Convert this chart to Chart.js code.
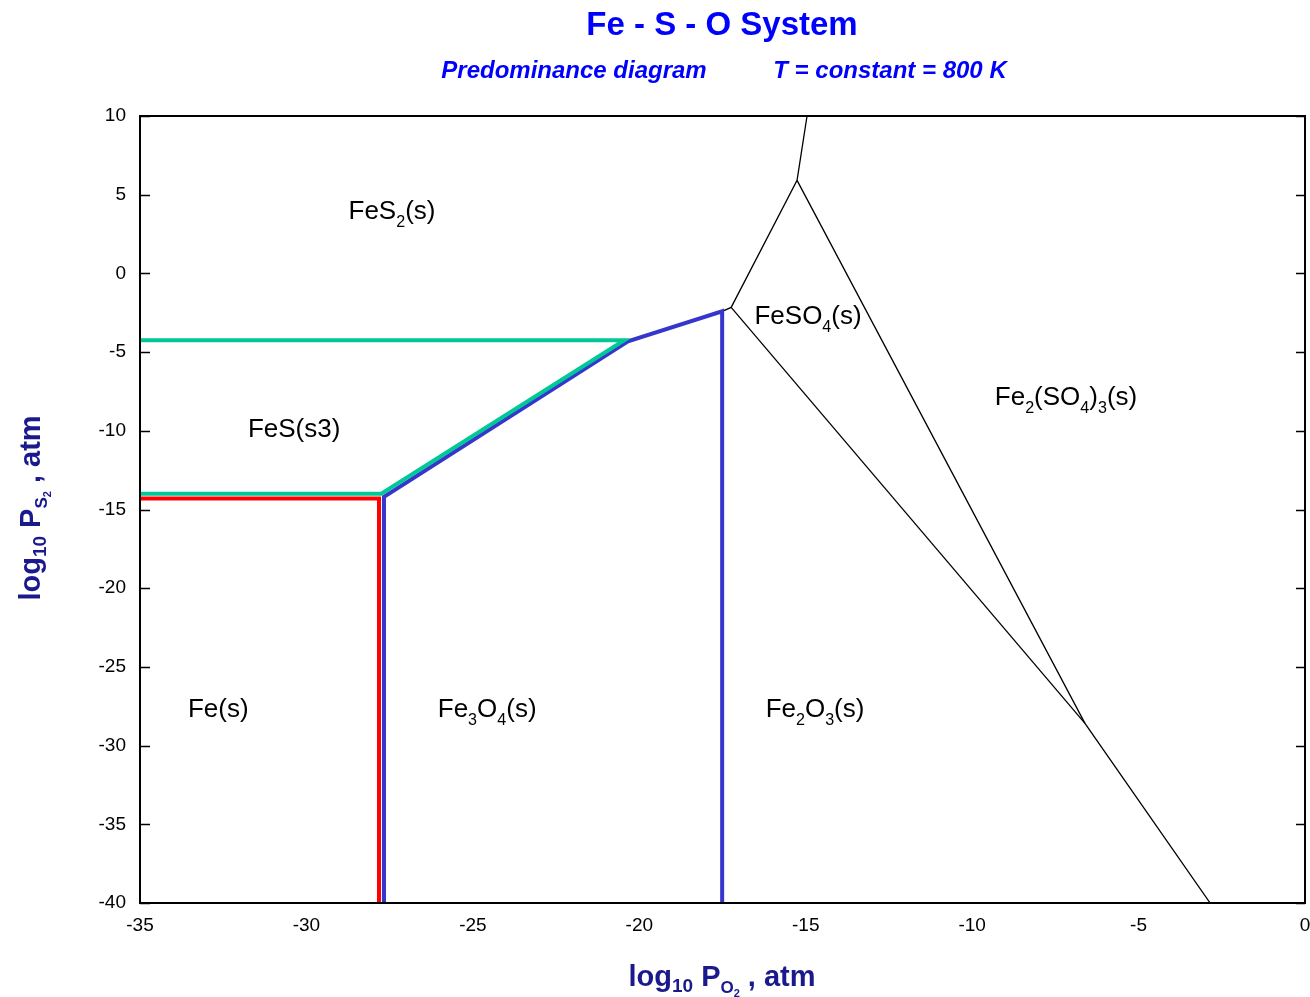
<!DOCTYPE html>
<html>
<head>
<meta charset="utf-8">
<script src="https://cdn.jsdelivr.net/npm/chart.js@4.4.1/dist/chart.umd.min.js"></script>
<style>
  body { margin: 0; background: #fff; }
  canvas { display: block; }
</style>
</head>
<body>
<canvas id="myChart" width="1310" height="997"></canvas>
<script>
// limites de fase, log10 P(O2) vs log10 P(S2)
var verde_x = [-35, -20.45, -27.75, -35];
var verde_y = [-4.25, -4.25, -14.0, -14.0];

var azul_x = [-27.67, -27.67, -20.34, -17.51, -17.51];
var azul_y = [-40, -14.2, -4.32, -2.41, -40];

var rojo_x = [-35, -27.82, -27.82];
var rojo_y = [-14.3, -14.3, -40];

var negro1_x = [-17.51, -17.24, -15.26, -14.96];
var negro1_y = [-2.41, -2.16, 5.91, 10];
var negro2_x = [-15.26, -6.61, -2.85];
var negro2_y = [5.91, -28.59, -40];
var negro3_x = [-17.24, -6.61];
var negro3_y = [-2.16, -28.59];

var etiquetas = ['FeS_2(s)', 'FeS(s3)', 'Fe(s)', 'Fe_3O_4(s)', 'Fe_2O_3(s)', 'FeSO_4(s)', 'Fe_2(SO_4)_3(s)'];
var etiq_x = [-27.43, -30.37, -32.65, -24.57, -14.72, -14.93, -7.18];
var etiq_y = [4.0, -9.85, -27.64, -27.64, -27.64, -2.67, -7.81];

var eje_x = [-35, 0, 5];
var eje_y = [-40, 10, 5];

var FUENTE = 'Arial, "Liberation Sans", sans-serif';
var AZUL_EJE = '#1a1a8c';

function puntos(xs, ys) {
    var p = [];
    for (var i = 0; i < xs.length; i++) {
        p.push({ x: xs[i], y: ys[i] });
    }
    return p;
}

function serie(xs, ys, color, ancho, orden) {
    return {
        data: puntos(xs, ys),
        showLine: true,
        borderColor: color,
        borderWidth: ancho,
        pointRadius: 0,
        fill: false,
        tension: 0,
        order: orden,
        borderJoinStyle: 'miter'
    };
}

// convierte "Fe_2O_3" en partes con subindices
function partes(txt, size) {
    var p = [];
    for (var i = 0; i < txt.length; i++) {
        var c = txt[i];
        if (c === '_' && i + 1 < txt.length) {
            p.push({ t: txt[i + 1], s: size * 0.62, dy: size * 0.28 });
            i++;
        } else {
            p.push({ t: c, s: size, dy: 0 });
        }
    }
    return p;
}

function dibujarRico(ctx, p, x, y, estilo) {
    var total = 0;
    p.forEach(function (q) {
        ctx.font = estilo + ' ' + q.s + 'px ' + FUENTE;
        q.w = ctx.measureText(q.t).width;
        total += q.w;
    });
    var cx = x - total / 2;
    ctx.textAlign = 'left';
    ctx.textBaseline = 'alphabetic';
    p.forEach(function (q) {
        ctx.font = estilo + ' ' + q.s + 'px ' + FUENTE;
        ctx.fillText(q.t, cx, y + q.dy);
        cx += q.w;
    });
}

var extras = {
    id: 'extras',
    afterDatasetsDraw: function (chart) {
        var ctx = chart.ctx;
        var a = chart.chartArea;
        var sx = chart.scales.x;
        var sy = chart.scales.y;
        ctx.save();

        // marco
        ctx.strokeStyle = '#000';
        ctx.lineWidth = 2;
        ctx.strokeRect(a.left, a.top, a.right - a.left, a.bottom - a.top);

        // marcas hacia adentro en el eje y (izq y der)
        ctx.lineWidth = 1.5;
        sy.ticks.forEach(function (t) {
            var py = Math.round(sy.getPixelForValue(t.value)) + 0.5;
            ctx.beginPath();
            ctx.moveTo(a.left, py);
            ctx.lineTo(a.left + 10, py);
            ctx.moveTo(a.right, py);
            ctx.lineTo(a.right - 9, py);
            ctx.stroke();
        });

        // nombres de las fases
        ctx.fillStyle = '#000';
        for (var i = 0; i < etiquetas.length; i++) {
            var px = sx.getPixelForValue(etiq_x[i]);
            var py2 = sy.getPixelForValue(etiq_y[i]);
            dibujarRico(ctx, partes(etiquetas[i], 26), px, py2 + 9, '');
        }

        // titulos
        ctx.fillStyle = '#0000ff';
        dibujarRico(ctx, [{ t: 'Fe - S - O System', s: 33, dy: 0 }], 722, 35, 'bold');
        dibujarRico(ctx, [{ t: 'Predominance diagram', s: 24, dy: 0 }], 574, 78, 'italic bold');
        dibujarRico(ctx, [{ t: 'T = constant = 800 K', s: 24, dy: 0 }], 890, 78, 'italic bold');

        // titulos de ejes
        ctx.fillStyle = AZUL_EJE;
        var tx = [
            { t: 'log', s: 29, dy: 0 }, { t: '10', s: 19, dy: 6 }, { t: ' P', s: 29, dy: 0 },
            { t: 'O', s: 17, dy: 7 }, { t: '2', s: 11, dy: 11 }, { t: ' , atm', s: 29, dy: 0 }
        ];
        dibujarRico(ctx, tx, 722, 986, 'bold');

        var ty = [
            { t: 'log', s: 29, dy: 0 }, { t: '10', s: 19, dy: 6 }, { t: ' P', s: 29, dy: 0 },
            { t: 'S', s: 17, dy: 7 }, { t: '2', s: 11, dy: 11 }, { t: ' , atm', s: 29, dy: 0 }
        ];
        ctx.translate(40, 508);
        ctx.rotate(-Math.PI / 2);
        dibujarRico(ctx, ty, 0, 0, 'bold');

        ctx.restore();
    }
};

var ctx = document.getElementById('myChart').getContext('2d');
new Chart(ctx, {
    type: 'scatter',
    data: {
        datasets: [
            serie(verde_x, verde_y, '#00c896', 4, 1),
            serie(azul_x, azul_y, '#3636cc', 4, 2),
            serie(rojo_x, rojo_y, '#ff0000', 4, 3),
            serie(negro1_x, negro1_y, '#000000', 1.3, 4),
            serie(negro2_x, negro2_y, '#000000', 1.3, 4),
            serie(negro3_x, negro3_y, '#000000', 1.3, 4)
        ]
    },
    options: {
        responsive: false,
        animation: false,
        devicePixelRatio: 1,
        layout: { padding: { top: 116, right: 5, left: 0, bottom: 0 } },
        plugins: {
            legend: { display: false },
            tooltip: { enabled: false }
        },
        scales: {
            x: {
                type: 'linear',
                min: eje_x[0],
                max: eje_x[1],
                grid: { display: false },
                border: { display: false },
                ticks: {
                    stepSize: eje_x[2],
                    color: '#000',
                    padding: 3,
                    maxRotation: 0,
                    font: { size: 19, family: FUENTE }
                },
                afterFit: function (s) {
                    s.height = 94;
                    s.paddingLeft = 0;
                    s.paddingRight = 0;
                }
            },
            y: {
                type: 'linear',
                min: eje_y[0],
                max: eje_y[1],
                grid: { display: false },
                border: { display: false },
                ticks: {
                    stepSize: eje_y[2],
                    color: '#000',
                    padding: 6,
                    font: { size: 19, family: FUENTE }
                },
                afterFit: function (s) {
                    s.width = 140;
                    s.paddingTop = 0;
                    s.paddingBottom = 0;
                }
            }
        }
    },
    plugins: [extras]
});
</script>
</body>
</html>
